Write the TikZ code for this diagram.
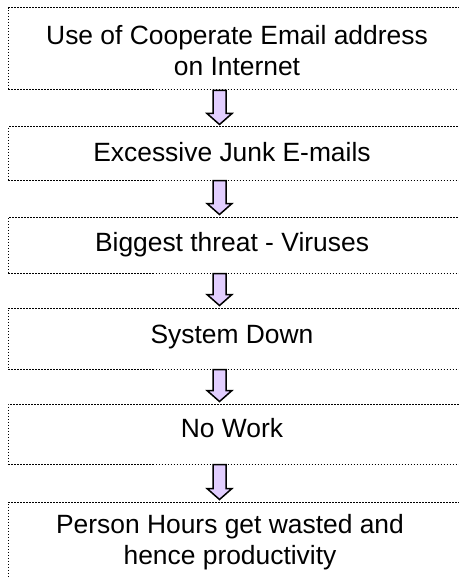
\documentclass[tikz,border=0pt]{standalone}
\usepackage{fontspec}
\setmainfont{Liberation Sans}
\usetikzlibrary{calc}

\definecolor{arrowlilac}{RGB}{226,206,255}

\tikzset{
  stage/.style={draw=black, line width=1bp, dash pattern=on 1.1bp off 1.9bp,
                rectangle, inner sep=0pt, minimum width=457.5bp},
  caption/.style={font=\fontsize{26.5}{31}\selectfont, inner sep=0pt, align=center},
  flow/.style={draw=black, line width=1.5bp, fill=arrowlilac, line join=miter},
}

% block arrow from the bottom of one stage to the top of the next
\newcommand{\flowstep}[2]{%
  \draw[flow] let \p1=(#1.south -| axis), \p2=(#2.north -| axis) in
    (\x1-6.5bp,\y1) -- (\x1-6.5bp,\y2+13bp) -- (\x1-12.5bp,\y2+13bp)
    -- (\x1,\y2+2bp) -- (\x1+12.5bp,\y2+13bp) -- (\x1+6.5bp,\y2+13bp)
    -- (\x1+6.5bp,\y1) -- cycle;
}

\begin{document}
\begin{tikzpicture}[x=1bp,y=-1bp]
  \clip (0,0) rectangle (459,578);
  \coordinate (axis) at (219.5,0);

  % stages
  \node[stage, minimum height=82bp]  (b1) at (237.25,49)    {};
  \node[stage, minimum height=53bp]  (b2) at (237.25,153.5) {};
  \node[stage, minimum height=56bp]  (b3) at (237.25,245)   {};
  \node[stage, minimum height=61bp]  (b4) at (237.25,338.5) {};
  \node[stage, minimum height=60bp]  (b5) at (237.25,434)   {};
  \node[stage, minimum height=118bp] (b6) at (237.25,561)   {};

  % stage texts
  \node[caption] (t1) at (237,50.8) {Use of Cooperate Email address\\on Internet};
  \node[caption, anchor=base] (t2) at (232,162) {Excessive Junk E-mails};
  \node[caption, anchor=base] (t3) at (232,251) {Biggest threat - Viruses};
  \node[caption, anchor=base] (t4) at (232,343) {System Down};
  \node[caption, anchor=base] (t5) at (232,437) {No Work};
  \node[caption, font=\fontsize{26.5}{32}\selectfont] (t6) at (230,542.2)
    {Person Hours get wasted and\\hence productivity};

  % arrows between stages
  \flowstep{b1}{b2}
  \flowstep{b2}{b3}
  \flowstep{b3}{b4}
  \flowstep{b4}{b5}
  \flowstep{b5}{b6}
\end{tikzpicture}
\end{document}
